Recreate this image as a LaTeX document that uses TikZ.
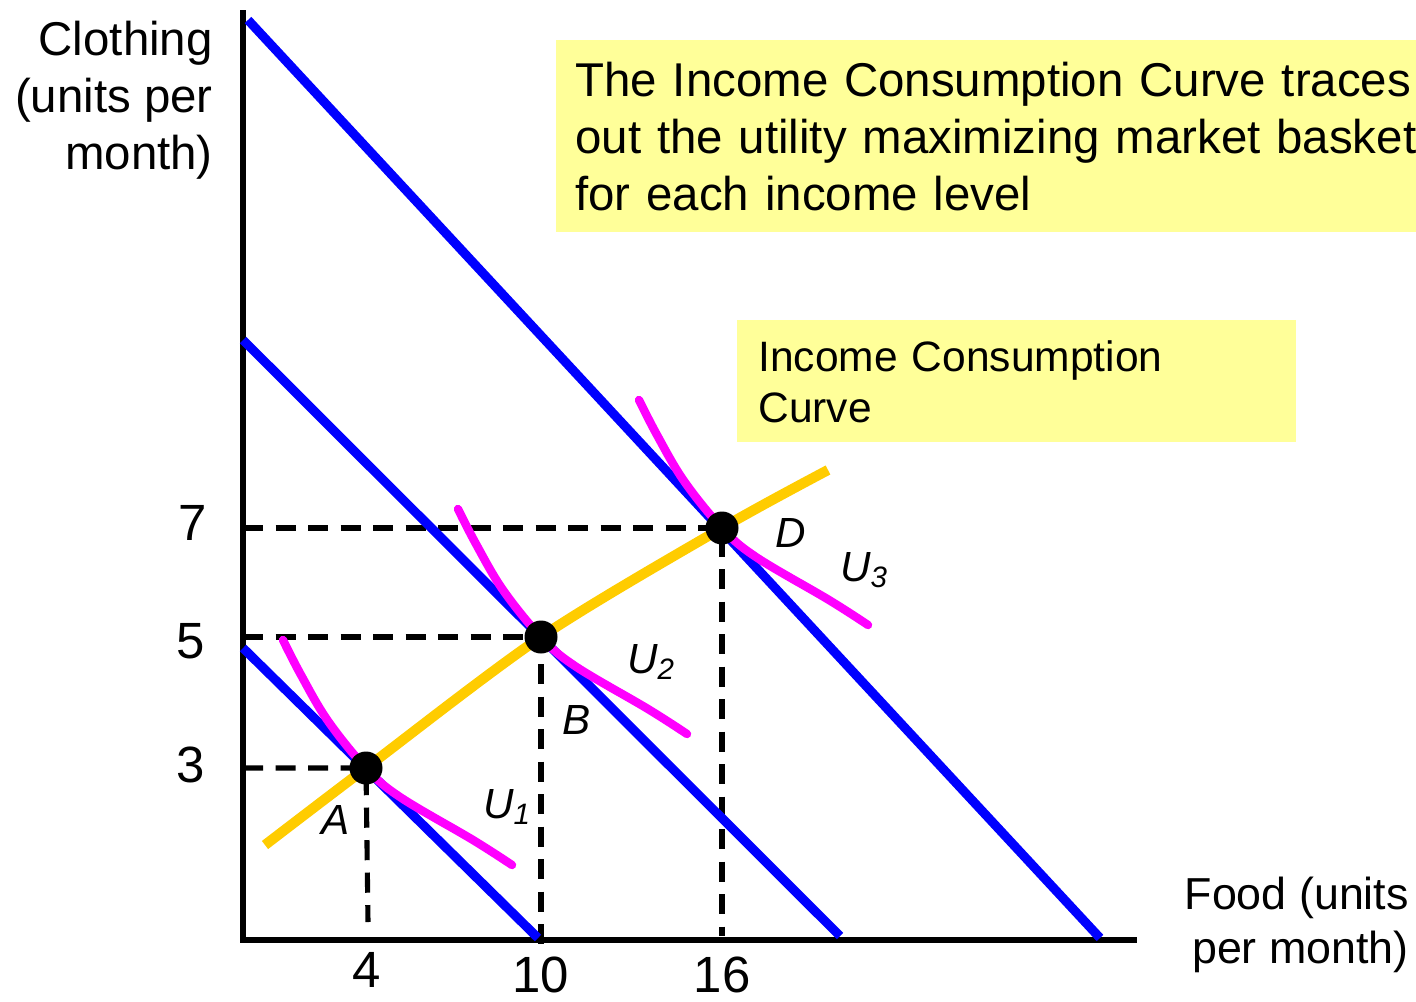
\documentclass[tikz,border=0pt]{standalone}
\usepackage{fontspec}
\setmainfont{Liberation Sans}
\usetikzlibrary{positioning}

\definecolor{budgetblue}{RGB}{0,0,255}
\definecolor{utilmagenta}{RGB}{255,0,255}
\definecolor{iccorange}{RGB}{255,204,0}
\definecolor{noteyellow}{RGB}{255,255,153}

\begin{document}
\begin{tikzpicture}[x=0.02cm, y=-0.02cm,
		budget/.style={budgetblue, line width=5.2pt},
		indiff/.style={utilmagenta, line width=4.8pt, line cap=round},
		guide/.style={black, line width=2.9pt, dash pattern=on 11.5pt off 7pt},
		dot/.style={circle, fill=black, inner sep=0pt, minimum size=0.66cm},
		ptlabel/.style={font=\fontsize{24}{28}\selectfont\itshape},
		ticklabel/.style={font=\fontsize{29}{34}\selectfont},
		note/.style={fill=noteyellow, anchor=north west, align=left}]
		\useasboundingbox (0,0) rectangle (1416,1001);

		% 1. Axes
		\coordinate (O) at (243,940);
		\coordinate (ytop) at (243,10);
		\coordinate (xend) at (1137,940);
		\draw[line width=2.9pt] (ytop) -- (O) -- (xend);

		% 2. Optimal baskets
		\coordinate (A) at (366,768);
		\coordinate (B) at (541,637);
		\coordinate (D) at (722,528);

		% 3. Dashed guides to the axes
		\draw[guide] (243,768) -- (A) -- (368,922);
		\draw[guide] (243,637) -- (B) -- (541,946);
		\draw[guide] (243,528) -- (D) -- (722,936);

		% 4. Budget lines
		\draw[budget] (243,648) -- (538,938);
		\draw[budget] (243,340) -- (840,936);
		\draw[budget] (248,20) -- (1100,938);

		% 5. Indifference curves (same shape, shifted to each basket)
		\foreach \p in {A,B,D}{
			\draw[indiff, shift={(\p)}] plot[smooth, tension=0.6] coordinates
				{(-83,-128) (-65,-93) (-38,-47) (0,0) (34,29) (107,72) (146,97)};
		}

		% 6. Income consumption curve
		\draw[iccorange, line width=5.8pt] plot[smooth, tension=0.5] coordinates
			{(265,845) (A) (B) (D) (828,470)};

		% 7. Dots on top
		\node[dot] (dotA) at (A) {};
		\node[dot] (dotB) at (B) {};
		\node[dot] (dotD) at (D) {};

		% 8. Point and curve labels
		\node[ptlabel] (lblA) at (336,820) {A};
		\node[ptlabel] (lblB) at (577,720) {B};
		\node[ptlabel] (lblD) at (791,533) {D};
		\node[ptlabel] (lblU1) at (507,807) {U\textsubscript{1}};
		\node[ptlabel] (lblU2) at (651,662) {U\textsubscript{2}};
		\node[ptlabel] (lblU3) at (864,570) {U\textsubscript{3}};

		% 9. Tick labels
		\node[ticklabel] (t7) at (193,523) {7};
		\node[ticklabel] (t5) at (191,641) {5};
		\node[ticklabel] (t3) at (191,765) {3};
		\node[ticklabel] (t4) at (367,970) {4};
		\node[ticklabel] (t10) at (541,975) {10};
		\node[ticklabel] (t16) at (722,975) {16};

		% 10. Axis titles
		\node[anchor=east, align=right, font=\fontsize{27}{32.4}\selectfont]
			(ylabel) at (219,100) {Clothing\\(units per\\month)};
		\node[anchor=east, align=right, font=\fontsize{25.5}{31}\selectfont]
			(xlabel) at (1415,925) {Food (units\\per month)};

		% 11. Notes
		\node[note, minimum height=3.84cm, text width=18cm, inner xsep=0.38cm,
			font=\fontsize{27}{32.4}\selectfont] (note1) at (556,40)
			{The Income Consumption Curve traces\\out the utility maximizing market basket\\for each income level};
		\node[note, minimum height=2.44cm, text width=10.34cm, inner xsep=0.42cm,
			font=\fontsize{24.2}{29}\selectfont] (note2) at (737,320)
			{Income Consumption\\Curve};
	\end{tikzpicture}
\end{document}
